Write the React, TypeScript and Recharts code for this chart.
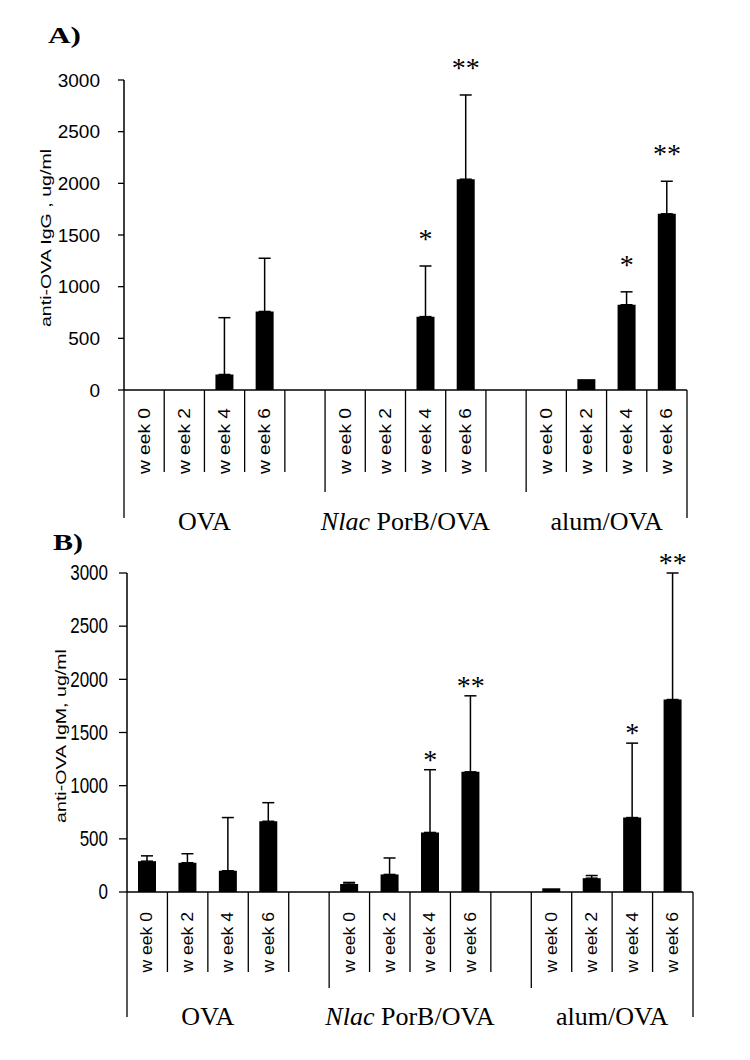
import React from 'react';
import { ComposedChart, Bar, ErrorBar, XAxis, YAxis, Scatter } from 'recharts';

// ---------- data ----------
const groups = ['OVA', 'Nlac PorB/OVA', 'alum/OVA'];
const groupItalic = ['', 'Nlac', ''];
const weeks = ['w eek 0', 'w eek 2', 'w eek 4', 'w eek 6'];
const yTicks = [0, 500, 1000, 1500, 2000, 2500, 3000];

// Panel A: anti-OVA IgG (ug/ml)
const iggOVA = [0, 0, 150, 760];
const iggNlac = [0, 0, 710, 2040];
const iggAlum = [0, 105, 825, 1705];
const iggErrOVA = [0, 0, 550, 515];
const iggErrNlac = [0, 95, 490, 815];
const iggErrAlum = [0, 0, 125, 315];
const iggSigOVA = ['', '', '', ''];
const iggSigNlac = ['', '', '*', '**'];
const iggSigAlum = ['', '', '*', '**'];

// Panel B: anti-OVA IgM (ug/ml)
const igmOVA = [290, 275, 200, 665];
const igmNlac = [75, 165, 560, 1130];
const igmAlum = [35, 130, 700, 1810];
const igmErrOVA = [50, 85, 500, 175];
const igmErrNlac = [15, 155, 590, 715];
const igmErrAlum = [0, 25, 700, 1190];
const igmSigOVA = ['', '', '', ''];
const igmSigNlac = ['', '', '*', '**'];
const igmSigAlum = ['', '', '*', '**'];

type Row = {
  key: string;
  g: number;
  w: number;
  gap: boolean;
  value?: number;
  err?: number;
  sig?: string;
  sigTop?: number;
};

function buildRows(vals: number[][], errs: number[][], sigs: string[][]): Row[] {
  const rows: Row[] = [];
  groups.forEach((_, g) => {
    weeks.forEach((_, w) => {
      const v = vals[g][w];
      const e = errs[g][w];
      const s = sigs[g][w];
      rows.push({ key: `${g}-${w}`, g, w, gap: false, value: v, err: e, sig: s, sigTop: s ? v + e : undefined });
    });
    if (g < groups.length - 1) rows.push({ key: `gap-${g}`, g, w: -1, gap: true });
  });
  return rows;
}

const rowsA = buildRows([iggOVA, iggNlac, iggAlum], [iggErrOVA, iggErrNlac, iggErrAlum], [iggSigOVA, iggSigNlac, iggSigAlum]);
const rowsB = buildRows([igmOVA, igmNlac, igmAlum], [igmErrOVA, igmErrNlac, igmErrAlum], [igmSigOVA, igmSigNlac, igmSigAlum]);

// ---------- styling / layout ----------
const SANS = '"Liberation Sans", Arial, sans-serif';
const SERIF = '"Liberation Serif", "Times New Roman", serif';
const W = 750;

type Cfg = {
  top: number;
  height: number;
  margin: { top: number; right: number; left: number; bottom: number };
  yAxisWidth: number;
  xAxisHeight: number;
  labelTop: number;
  labelStretch: number;
  innerLen: number;
  groupLen: number;
  outerLen: number;
  groupBase: number;
  yTickFs: number;
  yTickSy: number;
  yTickDx: number;
  tickSize: number;
  tickMargin: number;
  starLift: number;
};

const cfgA: Cfg = {
  top: 0,
  height: 545,
  margin: { top: 80, right: 63, left: 0, bottom: 15 },
  yAxisWidth: 124,
  xAxisHeight: 140,
  labelTop: 18,
  labelStretch: 1.2,
  innerLen: 82,
  groupLen: 102,
  outerLen: 128,
  groupBase: 140,
  yTickFs: 19,
  yTickSy: 1.0,
  yTickDx: -8,
  tickSize: 6,
  tickMargin: 10,
  starLift: 18,
};

const cfgB: Cfg = {
  top: 530,
  height: 530,
  margin: { top: 43, right: 57, left: 0, bottom: 20 },
  yAxisWidth: 127,
  xAxisHeight: 148,
  labelTop: 20,
  labelStretch: 1.1,
  innerLen: 80,
  groupLen: 96,
  outerLen: 125,
  groupBase: 133,
  yTickFs: 17,
  yTickSy: 1.25,
  yTickDx: -5,
  tickSize: 8,
  tickMargin: 6,
  starLift: 1,
};

function Panel({ rows, cfg }: { rows: Row[]; cfg: Cfg }) {
  const plotW = W - cfg.margin.left - cfg.margin.right - cfg.yAxisWidth;
  const slot = plotW / rows.length;
  const half = slot / 2;

  const XTick = (props: any) => {
    const { x, y, payload } = props;
    const row = rows.find((r) => r.key === payload.value);
    if (!row || row.gap) return <g />;
    const isLast = row.g === groups.length - 1 && row.w === weeks.length - 1;
    const lineStyle = { stroke: '#000', strokeWidth: 1.3 };
    const parts: React.ReactNode[] = [];
    parts.push(
      <line key="r" x1={x + half} y1={y} x2={x + half} y2={y + (isLast ? cfg.outerLen : cfg.innerLen)} {...lineStyle} />
    );
    if (row.w === 0) {
      const len = row.g === 0 ? cfg.outerLen : cfg.groupLen;
      parts.push(<line key="l" x1={x - half} y1={y} x2={x - half} y2={y + len} {...lineStyle} />);
    }
    parts.push(
      <text
        key="t"
        transform={`translate(${x},${y + cfg.labelTop}) rotate(-90) scale(${cfg.labelStretch},1)`}
        textAnchor="end"
        dominantBaseline="central"
        fontFamily={SANS}
        fontSize={16}
        fill="#000"
      >
        {weeks[row.w]}
      </text>
    );
    if (row.w === 1) {
      const name = groups[row.g];
      const it = groupItalic[row.g];
      const rest = it ? name.slice(it.length) : name;
      parts.push(
        <text
          key="g"
          x={x + half}
          y={y + cfg.groupBase}
          textAnchor="middle"
          fontFamily={SERIF}
          fontSize={26}
          fill="#000"
          style={{ whiteSpace: 'pre' }}
        >
          {it ? <tspan fontStyle="italic">{it}</tspan> : null}
          {rest}
        </text>
      );
    }
    return <g>{parts}</g>;
  };

  const YTick = (props: any) => {
    const { x, y, payload } = props;
    return (
      <text
        transform={`translate(${x + cfg.yTickDx},${y}) scale(1,${cfg.yTickSy})`}
        textAnchor="end"
        dominantBaseline="central"
        fontFamily={SANS}
        fontSize={cfg.yTickFs}
        fill="#000"
      >
        {payload.value}
      </text>
    );
  };

  const StarShape = (props: any) => {
    const { cx, cy, payload } = props;
    if (!payload || !payload.sig || !isFinite(cx) || !isFinite(cy)) return <g />;
    return (
      <text x={cx} y={cy - cfg.starLift} textAnchor="middle" fontFamily={SERIF} fontSize={28} fill="#000">
        {payload.sig}
      </text>
    );
  };

  const errKey = (d: any) => {
    const p = d && d.payload ? d.payload : d;
    return p && p.err ? [0, p.err] : undefined;
  };

  return (
    <ComposedChart width={W} height={cfg.height} data={rows} margin={cfg.margin}>
      <XAxis
        dataKey="key"
        interval={0}
        tick={XTick}
        tickLine={false}
        tickSize={0}
        tickMargin={0}
        height={cfg.xAxisHeight}
        axisLine={{ stroke: '#000', strokeWidth: 1.5 }}
      />
      <YAxis
        domain={[0, 3000]}
        ticks={yTicks}
        interval={0}
        width={cfg.yAxisWidth}
        tick={YTick}
        tickSize={cfg.tickSize}
        tickMargin={cfg.tickMargin}
        tickLine={{ stroke: '#000', strokeWidth: 1.3 }}
        axisLine={{ stroke: '#000', strokeWidth: 1.5 }}
      />
      <Bar dataKey="value" fill="#000" barSize={18} isAnimationActive={false}>
        <ErrorBar dataKey={errKey as any} direction="y" width={6} stroke="#000" strokeWidth={1.5} />
      </Bar>
      <Scatter dataKey="sigTop" isAnimationActive={false} shape={StarShape} legendType="none" />
    </ComposedChart>
  );
}

export default function App() {
  return (
    <div style={{ position: 'absolute', left: 0, top: 0, width: W, height: 1060, background: '#fff' }}>
      <div style={{ position: 'absolute', left: 0, top: cfgA.top }}>
        <Panel rows={rowsA} cfg={cfgA} />
      </div>
      <div style={{ position: 'absolute', left: 0, top: cfgB.top }}>
        <Panel rows={rowsB} cfg={cfgB} />
      </div>
      <svg width={W} height={1060} style={{ position: 'absolute', left: 0, top: 0, pointerEvents: 'none' }}>
        <text transform="translate(48,43) scale(1.3,1)" fontFamily={SERIF} fontWeight="bold" fontSize={24} fill="#000">
          A)
        </text>
        <text transform="translate(53,550) scale(1.25,1)" fontFamily={SERIF} fontWeight="bold" fontSize={24} fill="#000">
          B)
        </text>
        <text
          transform="translate(46,238) rotate(-90) scale(1.4,1)"
          textAnchor="middle"
          dominantBaseline="central"
          fontFamily={SANS}
          fontSize={14}
          fill="#000"
        >
          anti-OVA IgG , ug/ml
        </text>
        <text
          transform="translate(61,736) rotate(-90) scale(1.4,1)"
          textAnchor="middle"
          dominantBaseline="central"
          fontFamily={SANS}
          fontSize={14}
          fill="#000"
        >
          anti-OVA IgM, ug/ml
        </text>
      </svg>
    </div>
  );
}
